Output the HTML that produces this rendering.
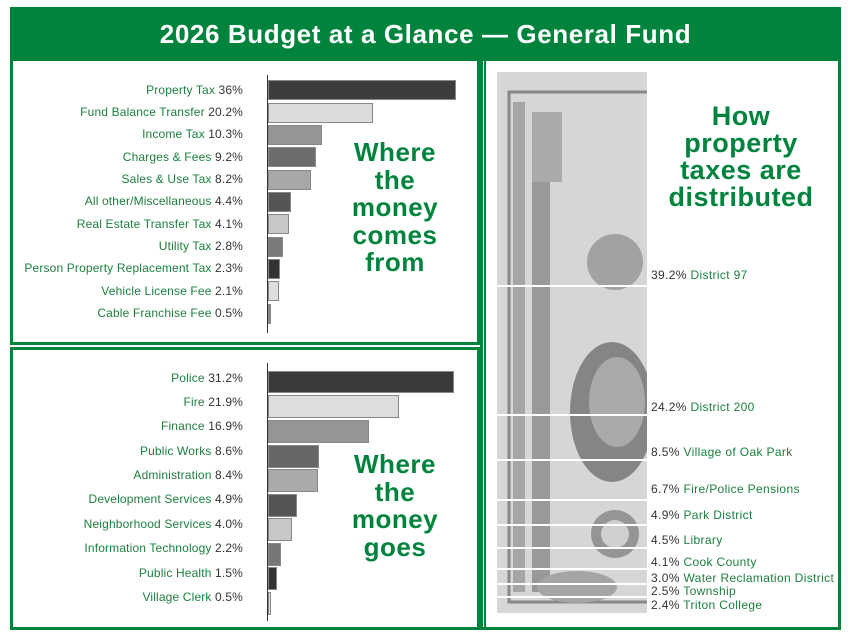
<!DOCTYPE html>
<html><head><meta charset="utf-8"><style>
*{margin:0;padding:0;box-sizing:border-box}
body{width:851px;height:636px;background:#fff;position:relative;overflow:hidden;font-family:"Liberation Sans",sans-serif}
.abs{position:absolute}
.title{left:10px;top:7px;width:831px;height:52px;background:#00843d;color:#fff;font-weight:bold;font-size:26px;letter-spacing:0.6px;text-align:center;line-height:54px}
.box{position:absolute;border:3px solid #00843d}
.lbl{position:absolute;right:608px;font-size:12px;letter-spacing:0.15px;color:#1b7f3e;white-space:nowrap;text-align:right;line-height:14px}
.lbl b{color:#333;font-weight:normal}
.bar{position:absolute;left:268px;border:1px solid #888}
.axis{position:absolute;left:267px;width:1px;background:#333}
.big{position:absolute;color:#00843d;font-weight:bold;text-align:center;line-height:27.5px;font-size:26px;letter-spacing:0.5px}
.rl{position:absolute;left:651px;font-size:12px;letter-spacing:0.35px;color:#1b7f3e;white-space:nowrap;line-height:14px}
.rl b{color:#333;font-weight:normal}
.sep{position:absolute;left:497px;width:150px;height:2px;background:#fff}
</style></head><body>
<div class="abs title">2026 Budget at a Glance — General Fund</div>
<div class="box" style="left:10px;top:58px;width:470px;height:287px"></div>
<div class="box" style="left:10px;top:347px;width:470px;height:283px"></div>
<div class="box" style="left:480px;top:58px;width:361px;height:572px"></div>
<div class="abs" style="left:484px;top:60px;width:2px;height:568px;background:#00843d"></div>

<div class="axis" style="top:75px;height:258px"></div>
<div class="lbl" style="top:83px">Property Tax <b>36%</b></div><div class="bar" style="top:80px;height:20px;width:188px;background:#3d3d3d"></div>
<div class="lbl" style="top:105px">Fund Balance Transfer <b>20.2%</b></div><div class="bar" style="top:103px;height:20px;width:105px;background:#dcdcdc"></div>
<div class="lbl" style="top:127px">Income Tax <b>10.3%</b></div><div class="bar" style="top:125px;height:20px;width:54px;background:#959595"></div>
<div class="lbl" style="top:150px">Charges &amp; Fees <b>9.2%</b></div><div class="bar" style="top:147px;height:20px;width:48px;background:#6d6d6d"></div>
<div class="lbl" style="top:172px">Sales &amp; Use Tax <b>8.2%</b></div><div class="bar" style="top:170px;height:20px;width:43px;background:#a8a8a8"></div>
<div class="lbl" style="top:194px">All other/Miscellaneous <b>4.4%</b></div><div class="bar" style="top:192px;height:20px;width:23px;background:#555"></div>
<div class="lbl" style="top:217px">Real Estate Transfer Tax <b>4.1%</b></div><div class="bar" style="top:214px;height:20px;width:21px;background:#c8c8c8"></div>
<div class="lbl" style="top:239px">Utility Tax <b>2.8%</b></div><div class="bar" style="top:237px;height:20px;width:15px;background:#7a7a7a"></div>
<div class="lbl" style="top:261px">Person Property Replacement Tax <b>2.3%</b></div><div class="bar" style="top:259px;height:20px;width:12px;background:#333"></div>
<div class="lbl" style="top:284px">Vehicle License Fee <b>2.1%</b></div><div class="bar" style="top:281px;height:20px;width:11px;background:#dedede"></div>
<div class="lbl" style="top:306px">Cable Franchise Fee <b>0.5%</b></div><div class="bar" style="top:304px;height:20px;width:3px;background:#888"></div>
<div class="big" style="left:330px;top:139px;width:130px">Where<br>the<br>money<br>comes<br>from</div>

<div class="axis" style="top:363px;height:258px"></div>
<div class="lbl" style="top:371px">Police <b>31.2%</b></div><div class="bar" style="top:371px;height:22px;width:186px;background:#3a3a3a"></div>
<div class="lbl" style="top:395px">Fire <b>21.9%</b></div><div class="bar" style="top:395px;height:23px;width:131px;background:#ddd"></div>
<div class="lbl" style="top:419px">Finance <b>16.9%</b></div><div class="bar" style="top:420px;height:23px;width:101px;background:#959595"></div>
<div class="lbl" style="top:444px">Public Works <b>8.6%</b></div><div class="bar" style="top:445px;height:23px;width:51px;background:#666"></div>
<div class="lbl" style="top:468px">Administration <b>8.4%</b></div><div class="bar" style="top:469px;height:23px;width:50px;background:#aaa"></div>
<div class="lbl" style="top:492px">Development Services <b>4.9%</b></div><div class="bar" style="top:494px;height:23px;width:29px;background:#555"></div>
<div class="lbl" style="top:517px">Neighborhood Services <b>4.0%</b></div><div class="bar" style="top:518px;height:23px;width:24px;background:#c8c8c8"></div>
<div class="lbl" style="top:541px">Information Technology <b>2.2%</b></div><div class="bar" style="top:543px;height:23px;width:13px;background:#777"></div>
<div class="lbl" style="top:566px">Public Health <b>1.5%</b></div><div class="bar" style="top:567px;height:23px;width:9px;background:#333"></div>
<div class="lbl" style="top:590px">Village Clerk <b>0.5%</b></div><div class="bar" style="top:592px;height:23px;width:3px;background:#ddd"></div>
<div class="big" style="left:330px;top:451px;width:130px">Where<br>the<br>money<br>goes</div>

<svg class="abs" style="left:497px;top:72px" width="150" height="541">
<rect width="150" height="541" fill="#d6d6d6"/>
<rect x="12" y="20" width="140" height="510" fill="none" stroke="#888" stroke-width="3"/>
<rect x="16" y="30" width="12" height="490" fill="#a5a5a5"/>
<rect x="35" y="80" width="18" height="440" fill="#999"/>
<rect x="35" y="40" width="30" height="70" fill="#aaa"/>
<ellipse cx="115" cy="340" rx="42" ry="70" fill="#858585"/>
<ellipse cx="120" cy="330" rx="28" ry="45" fill="#aaa"/>
<circle cx="118" cy="190" r="28" fill="#a2a2a2"/>
<circle cx="118" cy="462" r="24" fill="#959595"/>
<circle cx="118" cy="462" r="14" fill="#cfcfcf"/>
<ellipse cx="80" cy="515" rx="40" ry="16" fill="#a5a5a5"/>
</svg>
<div class="sep" style="top:285px"></div>
<div class="sep" style="top:414px"></div>
<div class="sep" style="top:459px"></div>
<div class="sep" style="top:499px"></div>
<div class="sep" style="top:524px"></div>
<div class="sep" style="top:547px"></div>
<div class="sep" style="top:568px"></div>
<div class="sep" style="top:583px"></div>
<div class="sep" style="top:596px"></div>

<div class="big" style="left:656px;top:103px;width:170px;font-size:27px;line-height:27px">How<br>property<br>taxes are<br>distributed</div>
<div class="rl" style="top:268px"><b>39.2%</b> District 97</div>
<div class="rl" style="top:400px"><b>24.2%</b> District 200</div>
<div class="rl" style="top:445px"><b>8.5%</b> Village of Oak Park</div>
<div class="rl" style="top:482px"><b>6.7%</b> Fire/Police Pensions</div>
<div class="rl" style="top:508px"><b>4.9%</b> Park District</div>
<div class="rl" style="top:533px"><b>4.5%</b> Library</div>
<div class="rl" style="top:555px"><b>4.1%</b> Cook County</div>
<div class="rl" style="top:571px"><b>3.0%</b> Water Reclamation District</div>
<div class="rl" style="top:584px"><b>2.5%</b> Township</div>
<div class="rl" style="top:598px"><b>2.4%</b> Triton College</div>
</body></html>
